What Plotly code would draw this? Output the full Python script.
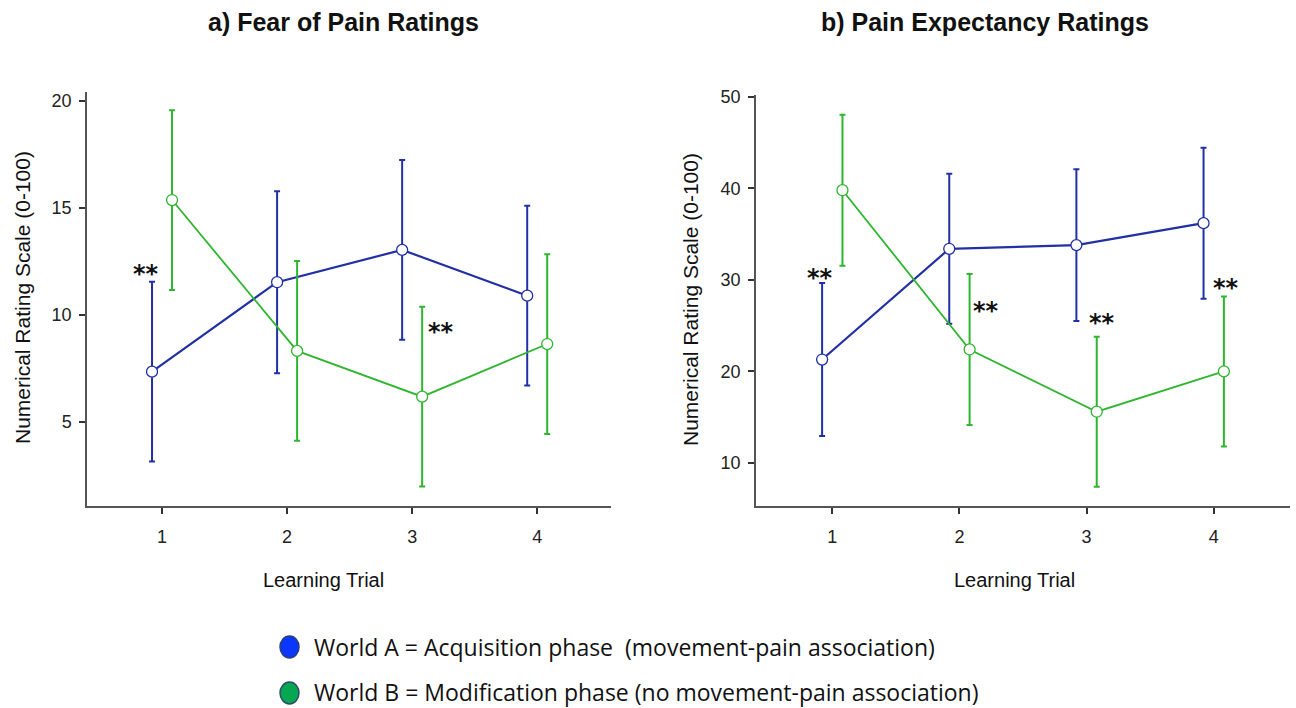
import plotly.graph_objects as go

trials = [1, 2, 3, 4]
tick_labels = ["1", "2", "3", "4"]

# a) Fear of Pain Ratings
fear_A = [7.35, 11.53, 13.04, 10.90]
fear_A_err = [4.2, 4.25, 4.2, 4.2]
fear_B = [15.37, 8.32, 6.18, 8.64]
fear_B_err = [4.2, 4.2, 4.2, 4.2]

# b) Pain Expectancy Ratings
exp_A = [21.3, 33.4, 33.8, 36.2]
exp_A_err = [8.35, 8.2, 8.3, 8.25]
exp_B = [39.8, 22.4, 15.6, 20.0]
exp_B_err = [8.25, 8.25, 8.2, 8.2]

offset = 0.08
BLUE = "#2230a6"
GREEN = "#2fb52f"

fig = go.Figure()

def add_series(xref, yref, vals, errs, color, sign, lw):
    fig.add_trace(go.Scatter(
        x=[t + sign * offset for t in trials], y=vals,
        xaxis=xref, yaxis=yref,
        mode="lines+markers",
        line=dict(color=color, width=lw),
        marker=dict(symbol="circle", size=11, color="white",
                    line=dict(color=color, width=1.3)),
        error_y=dict(type="data", array=errs, visible=True,
                     color=color, thickness=2, width=3),
        showlegend=False, hoverinfo="skip",
    ))

add_series("x", "y", fear_A, fear_A_err, BLUE, -1, 2.2)
add_series("x", "y", fear_B, fear_B_err, GREEN, 1, 1.8)
add_series("x2", "y2", exp_A, exp_A_err, BLUE, -1, 2.2)
add_series("x2", "y2", exp_B, exp_B_err, GREEN, 1, 1.8)

axis_common = dict(
    showline=True, linecolor="#555555", linewidth=1.5,
    showgrid=False, zeroline=False, automargin=False,
    ticks="outside", ticklen=6, tickwidth=1.5, tickcolor="#333333",
    tickfont=dict(family="Liberation Sans, Arial", size=18, color="#222222"),
)

fig.update_layout(
    width=1296, height=708,
    margin=dict(l=0, r=0, t=0, b=0, pad=0),
    plot_bgcolor="white", paper_bgcolor="white",
    showlegend=False,
    xaxis=dict(domain=[87/1296, 611/1296], range=[0.40, 4.59],
               tickvals=trials, ticktext=tick_labels, anchor="y",
               ticklabelstandoff=8, **axis_common),
    yaxis=dict(domain=[1 - 506/708, 1 - 92/708], range=[1.07, 20.42],
               tickvals=[5, 10, 15, 20], anchor="x",
               ticklabelstandoff=4, **axis_common),
    xaxis2=dict(domain=[756/1296, 1290/1296], range=[0.40, 4.60],
                tickvals=trials, ticktext=tick_labels, anchor="y2",
                ticklabelstandoff=8, **axis_common),
    yaxis2=dict(domain=[1 - 506/708, 1 - 95/708], range=[5.3, 50.2],
                tickvals=[10, 20, 30, 40, 50], anchor="x2",
                ticklabelstandoff=4, **axis_common),
)

font_main = "Liberation Sans, Arial"
ann = []
def paper_text(text, px, py, size, family=font_main, angle=0, xanchor="center"):
    ann.append(dict(text=text, x=px/1296, y=1 - py/708, xref="paper", yref="paper",
                    xanchor=xanchor, yanchor="middle", showarrow=False,
                    textangle=angle,
                    font=dict(family=family, size=size, color="#111111")))

paper_text("<b>a) Fear of Pain Ratings</b>", 343, 22, 25)
paper_text("<b>b) Pain Expectancy Ratings</b>", 985, 22, 25)
paper_text("Learning Trial", 323, 580, 20)
paper_text("Learning Trial", 1014, 580, 20)
paper_text("Numerical Rating Scale (0-100)", 22, 298, 21, angle=-90)
paper_text("Numerical Rating Scale (0-100)", 690, 300, 21, angle=-90)

# significance stars
stars = [("x", "y", 0.87, 11.9), ("x", "y", 3.23, 9.2),
         ("x2", "y2", 0.905, 30.2), ("x2", "y2", 2.21, 26.6),
         ("x2", "y2", 3.12, 25.3), ("x2", "y2", 4.10, 29.1)]
for xr, yr, sx, sy in stars:
    ann.append(dict(text="<b>**</b>", x=sx, y=sy, xref=xr, yref=yr,
                    xanchor="center", yanchor="middle", showarrow=False,
                    font=dict(family="DejaVu Sans", size=24, color="#111111")))

paper_text("World A = Acquisition phase  (movement-pain association)", 312, 647, 23,
           family="Open Sans", xanchor="left")
paper_text("World B = Modification phase (no movement-pain association)", 312, 692, 23,
           family="Open Sans", xanchor="left")
fig.update_layout(annotations=ann)

# legend ellipses
fig.add_shape(type="circle", xref="paper", yref="paper",
              x0=280/1296, x1=299/1296, y0=1 - 658/708, y1=1 - 636/708,
              fillcolor="#0a36ff", line=dict(color="#2a3f7a", width=1.5))
fig.add_shape(type="circle", xref="paper", yref="paper",
              x0=280/1296, x1=299/1296, y0=1 - 704/708, y1=1 - 682/708,
              fillcolor="#07a650", line=dict(color="#2a4f6a", width=1.5))

fig.write_html("out.html", config={"displayModeBar": False},
               post_script="document.body.style.margin='0';document.body.style.overflow='hidden';")
